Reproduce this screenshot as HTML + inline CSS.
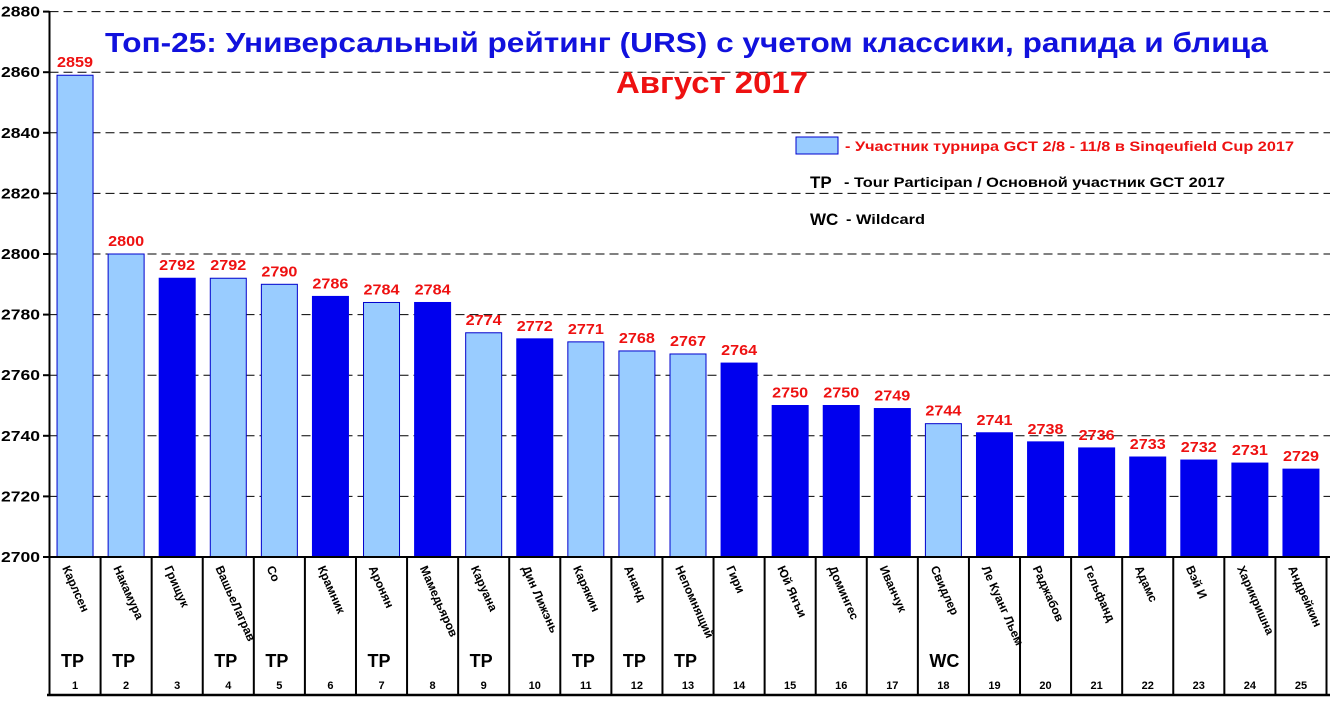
<!DOCTYPE html><html><head><meta charset="utf-8"><style>body{margin:0;background:#fff}svg{display:block}text{font-family:"Liberation Sans",Arial,sans-serif;font-weight:bold}</style></head><body>
<svg width="1336" height="704" xmlns="http://www.w3.org/2000/svg" id="s"></svg>
<script>
const v=[2859,2800,2792,2792,2790,2786,2784,2784,2774,2772,2771,2768,2767,2764,2750,2750,2749,2744,2741,2738,2736,2733,2732,2731,2729];
const n=["Карлсен","Накамура","Грищук","ВашьеЛаграв","Со","Крамник","Аронян","Мамедьяров","Каруана","Дин Лижэнь","Карякин","Ананд","Непомнящий","Гири","Юй Янъи","Домингес","Иванчук","Свидлер","Ле Куанг Льем","Раджабов","Гельфанд","Адамс","Вэй И","Харикришна","Андрейкин"];
const light=[1,2,4,5,7,9,11,12,13,18];
const tag={1:"TP",2:"TP",4:"TP",5:"TP",7:"TP",9:"TP",11:"TP",12:"TP",13:"TP",18:"WC"};
const Y=x=>557-(x-2700)*3.03, L=49.5, W=51.08;
const LA='lengthAdjust="spacingAndGlyphs"';
let h='';
for(let g=2700;g<=2880;g+=20){const y=Y(g);
 if(g>2700)h+=`<line x1="${L}" x2="1330" y1="${y}" y2="${y}" stroke="#000" stroke-dasharray="9,5" stroke-width="1"/>`;
 h+=`<line x1="43" x2="${L}" y1="${y}" y2="${y}" stroke="#000" stroke-width="2"/><text x="1" y="${y+5}" font-size="15" textLength="39" ${LA}>${g}</text>`;}
h+=`<line x1="${L}" x2="${L}" y1="11" y2="557" stroke="#000" stroke-width="2"/>`;
v.forEach((val,i)=>{const k=i+1,c=L+W*(i+0.5),l=light.includes(k);
 h+=`<rect x="${c-18}" y="${Y(val)}" width="36" height="${557-Y(val)}" fill="${l?'#99ccff':'#0000ee'}" stroke="${l?'#0000cc':'#0000ee'}" stroke-width="1"/>`;
 h+=`<text x="${c-18}" y="${Y(val)-8}" font-size="15" fill="#ee1111" textLength="36" ${LA}>${val}</text>`;
 h+=`<text transform="translate(${c-13},568) rotate(66)" font-size="12">${n[i]}</text>`;
 if(tag[k])h+=`<text x="${c-14}" y="667" font-size="18">${tag[k]}</text>`;
 h+=`<text x="${c}" y="689" font-size="11" text-anchor="middle">${k}</text>`;});
for(let i=0;i<=25;i++){const x=L+W*i;h+=`<line x1="${x}" x2="${x}" y1="557" y2="695" stroke="#000" stroke-width="2"/>`;}
h+=`<line x1="47" x2="1330" y1="557" y2="557" stroke="#000" stroke-width="2"/><line x1="47" x2="1330" y1="695" y2="695" stroke="#000" stroke-width="2.5"/>`;
h+=`<text x="105" y="52" font-size="28" fill="#1111dd" textLength="1163" ${LA}>Топ-25: Универсальный рейтинг (URS) с учетом классики, рапида и блица</text>`;
h+=`<text x="616" y="93" font-size="31" fill="#ee1111" textLength="192" ${LA}>Август 2017</text>`;
h+=`<rect x="796" y="137" width="42" height="17" fill="#99ccff" stroke="#0000cc"/>`;
h+=`<text x="845" y="151" font-size="14" fill="#ee1111" textLength="449" ${LA}>- Участник турнира GCT 2/8 - 11/8 в Sinqeufield Cup 2017</text>`;
h+=`<text x="810" y="188" font-size="17">TP</text><text x="844" y="187" font-size="14" textLength="381" ${LA}>- Tour Participan / Основной участник GCT 2017</text>`;
h+=`<text x="810" y="225" font-size="17">WC</text><text x="846" y="224" font-size="14" textLength="79" ${LA}>- Wildcard</text>`;
document.getElementById('s').innerHTML=h;
</script></body></html>
